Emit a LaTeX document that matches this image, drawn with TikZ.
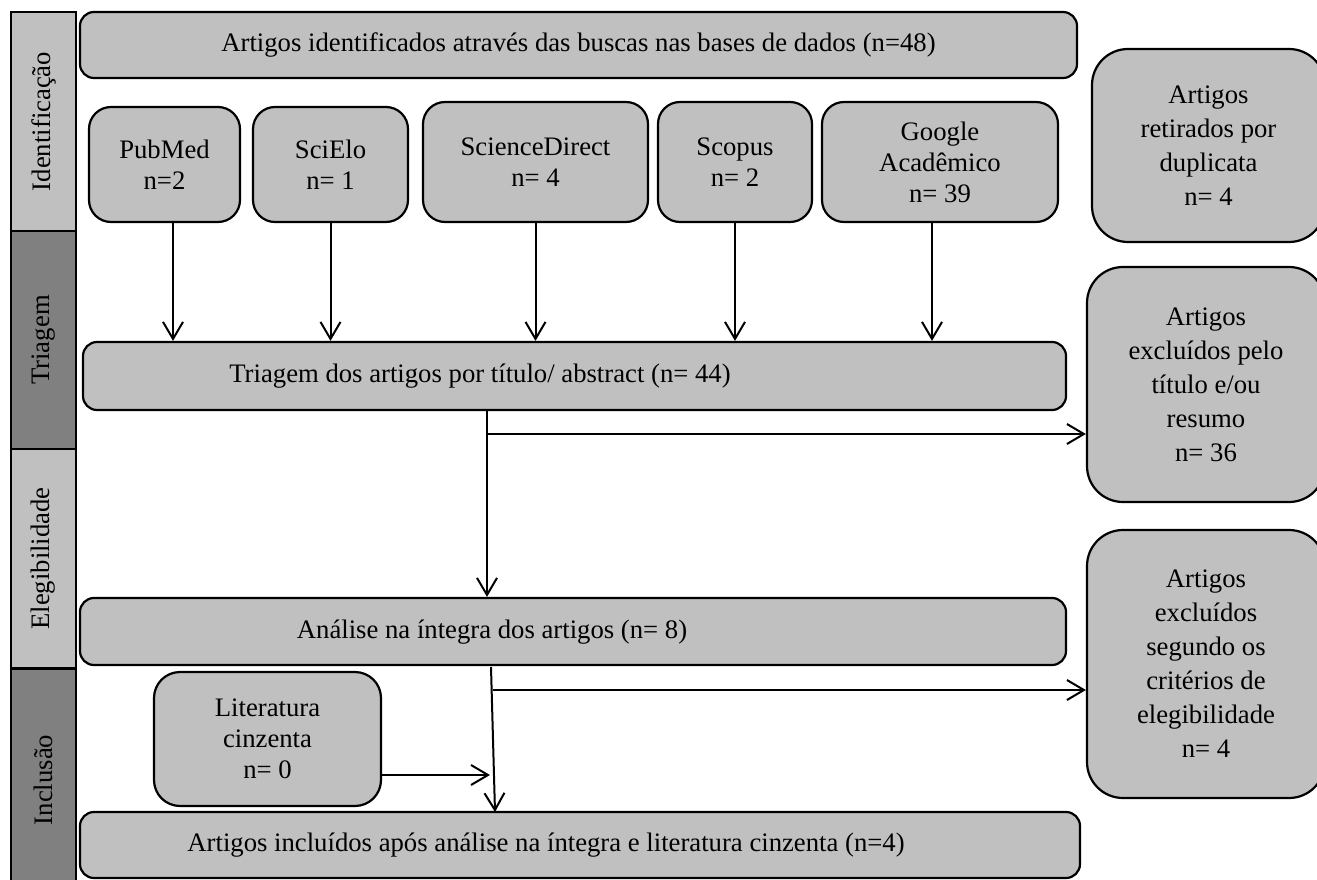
\documentclass[tikz,border=0pt]{standalone}
\usepackage{fontspec}
\setmainfont{Liberation Serif}
\usetikzlibrary{arrows.meta}
\definecolor{boxgray}{HTML}{C0C0C0}
\definecolor{darkgray}{HTML}{808080}
\begin{document}
\begin{tikzpicture}[x=1pt,y=-1pt,
  every node/.style={font=\fontsize{26.7}{31}\selectfont, inner sep=0pt},
  box/.style={draw=black, line width=2.2pt, fill=boxgray, rounded corners=#1, align=center},
  box/.default=14pt,
  side/.style={draw=black, line width=2pt, rotate=90, minimum height=65pt},
  tall/.style={font=\fontsize{26.7}{34}\selectfont},
  arr/.style={line width=2pt, -{Straight Barb[length=17pt,width=20pt,line width=2pt]}},
  ln/.style={line width=2pt}]
\useasboundingbox (0,0) rectangle (1317,880);
\fill[white] (0,0) rectangle (1317,880);

% sidebar
\node[side, fill=boxgray, minimum width=219pt] (s1) at (43.5,121.5) {Identificação};
\node[side, fill=darkgray, minimum width=218pt] (s2) at (43.5,340) {Triagem};
\node[side, fill=boxgray, minimum width=219pt] (s3) at (43.5,558.5) {Elegibilidade};
\node[side, fill=darkgray, minimum width=222pt] (s4) at (43.5,780) {Inclusão};

% top box
\node[box, minimum width=997pt, minimum height=66pt] (top) at (578.5,45) {Artigos identificados através das buscas nas bases de dados (n=48)};

% sources
\node[box=22pt, minimum width=151pt, minimum height=115pt] (pub) at (164.5,164.5) {PubMed\\n=2};
\node[box=22pt, minimum width=155pt, minimum height=115pt] (sci) at (330.5,164.5) {SciElo\\n= 1};
\node[box=22pt, minimum width=225pt, minimum height=120pt] (sd) at (535.5,162) {ScienceDirect\\n= 4};
\node[box=22pt, minimum width=154pt, minimum height=120pt] (sco) at (735,162) {Scopus\\n= 2};
\node[box=22pt, minimum width=236pt, minimum height=120pt] (goo) at (940,162) {Google\\Acadêmico\\n= 39};

% triage
\node[box, minimum width=983pt, minimum height=68pt] (tri) at (574.5,376) {};
\node (tritext) at (480,376) {Triagem dos artigos por título/ abstract (n= 44)};

% right boxes
\node[box=36pt, tall, minimum width=233pt, minimum height=193pt] (ex1) at (1208.5,145.5) {Artigos\\retirados por\\duplicata\\n= 4};
\node[box=36pt, tall, minimum width=238pt, minimum height=235pt] (ex2) at (1206,384.5) {Artigos\\excluídos pelo\\título e/ou\\resumo\\n= 36};
\node[box=36pt, tall, minimum width=238pt, minimum height=268pt] (ex3) at (1206,664) {Artigos\\excluídos\\segundo os\\critérios de\\elegibilidade\\n= 4};

% analysis
\node[box, minimum width=986pt, minimum height=67pt] (ana) at (573,631.5) {};
\node (anatext) at (492,632) {Análise na íntegra dos artigos (n= 8)};

% grey literature
\node[box=26pt, minimum width=227pt, minimum height=134pt] (lit) at (267.5,739) {Literatura\\cinzenta\\n= 0};

% final
\node[box, minimum width=1000pt, minimum height=66pt] (fin) at (580,845) {};
\node (fintext) at (546,845) {Artigos incluídos após análise na íntegra e literatura cinzenta (n=4)};

% arrows from sources
\coordinate (p1) at ([xshift=8.5pt]pub.south);
\coordinate (p5) at ([xshift=-8pt]goo.south);
\draw[arr] (p1) -- (p1 |- tri.north);
\draw[arr] (sci.south) -- (sci.south |- tri.north);
\draw[arr] (sd.south) -- (sd.south |- tri.north);
\draw[arr] (sco.south) -- (sco.south |- tri.north);
\draw[arr] (p5) -- (p5 |- tri.north);

% triage to analysis
\coordinate (t1) at (487,410);
\coordinate (t2) at (487,434);
\draw[arr] (t1) -- (t1 |- ana.north);
\draw[arr] (t2) -- (t2 -| ex2.west);

% analysis to final
\coordinate (a1) at (491,667);
\coordinate (a2) at (492.5,690);
\coordinate (a3) at (495,812);
\draw[arr] (a1) -- (a3);
\draw[arr] (a2) -- (a2 -| ex3.west);
\coordinate (l1) at (lit.east |- 0,775);
\draw[arr] (l1) -- (490,775);
\end{tikzpicture}
\end{document}
